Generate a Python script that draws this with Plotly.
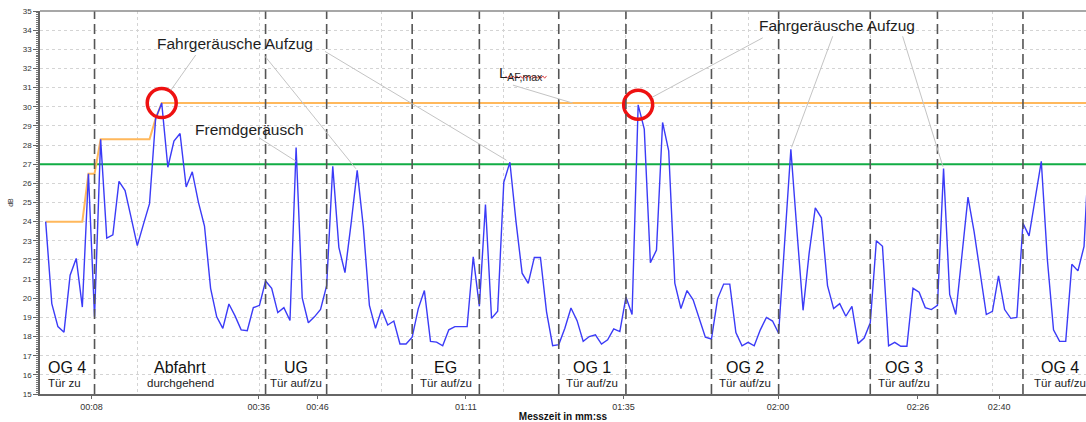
import numpy as np
import plotly.graph_objects as go

# Sound pressure level, one sample per second (dB)
level_db = [
    24.0, 19.72, 18.52, 18.23, 21.2, 22.08, 19.54, 26.5, 19.03, 28.3,
    23.14, 23.31, 26.1, 25.62, 24.2, 22.75, 23.86, 24.94, 29.38, 30.19,
    26.84, 28.21, 28.6, 25.81, 26.6, 25.02, 23.77, 20.52, 19.03, 18.43,
    19.70, 19.08, 18.35, 18.31, 19.51, 19.63, 20.90, 20.52, 19.25, 19.51,
    18.84, 27.87, 20.02, 18.72, 19.03, 19.42, 20.66, 26.89, 22.66, 21.34,
    23.9, 26.68, 23.74, 19.63, 18.43, 19.41, 18.6, 18.81, 17.61, 17.61,
    17.97, 19.46, 20.40, 17.75, 17.71, 17.52, 18.35, 18.52, 18.52, 18.52,
    22.16, 19.58, 24.90, 18.95, 19.32, 26.05, 27.1, 24.0, 21.31, 20.78,
    22.13, 22.13, 19.29, 17.52, 17.58, 18.43, 19.49, 18.83, 17.75, 18.00,
    18.09, 17.61, 17.83, 18.40, 18.26, 20.06, 19.15, 30.10, 28.83, 21.86,
    22.51, 29.18, 27.70, 20.79, 19.46, 20.40, 19.92, 18.95, 17.97, 17.87,
    19.97, 20.74, 20.74, 18.21, 17.52, 17.70, 17.52, 18.35, 19.0, 18.81,
    18.17, 23.0, 27.78, 23.5, 19.37, 22.37, 24.72, 24.20, 20.66, 19.46,
    19.72, 19.06, 19.58, 17.63, 17.92, 18.72, 23.00, 22.71, 17.52, 17.70,
    17.49, 17.49, 20.52, 20.32, 19.51, 19.41, 19.63, 26.77, 20.20, 19.15,
    22.2, 25.28, 23.48, 21.34, 19.15, 19.32, 21.17, 19.41, 18.95, 19.0,
    23.91, 23.26, 25.11, 27.15, 22.0, 18.35, 17.75, 17.75, 21.77, 21.43,
    22.71, 29.0,
]

# Limit value (dB)
limit_db = 27

# Event markers (s) and tick labels
event_times = [8, 36, 46, 60, 71, 84, 95, 109, 120, 135, 146, 160]
tick_labels = ["00:08", "00:36", "00:46", "01:11", "01:35", "02:00", "02:26", "02:40"]

# Stops of the lift
section_names = ["OG 4", "Abfahrt", "UG", "EG", "OG 1", "OG 2", "OG 3", "OG 4"]
section_notes = ["Tür zu", "durchgehend", "Tür auf/zu", "Tür auf/zu",
                 "Tür auf/zu", "Tür auf/zu", "Tür auf/zu", "Tür auf/zu"]
section_spans = [(0, 8), (8, 36), (36, 46), (60, 71), (84, 95),
                 (109, 120), (135, 146), (160, 172)]

# Highlighted peaks (sample index)
max_peaks = [19, 97]
lift_peaks_left = [19, 51, 76]
lift_peaks_right = [97, 122, 147]
foreign_peak = 41

t = np.arange(len(level_db))
level = np.array(level_db)
laf_max = np.maximum.accumulate(level)

FONT = "Liberation Sans, Arial, sans-serif"
X_RANGE = [-0.93, 170.32]
Y_RANGE = [15, 35]
W, H = 1086, 422
M = dict(l=40, r=0, t=11, b=22)
SX = (W - M["l"] - M["r"]) / (X_RANGE[1] - X_RANGE[0])   # px per second
SY = (H - M["t"] - M["b"]) / (Y_RANGE[1] - Y_RANGE[0])   # px per dB

# where the time labels sit along the axis (s)
tick_pos = [7.5, 34.9, 44.5, 68.8, 94.6, 119.9, 142.8, 156.1]

fig = go.Figure()

fig.add_trace(go.Scatter(x=X_RANGE, y=[limit_db, limit_db], mode="lines",
                         line=dict(color="#12ad45", width=2), hoverinfo="skip"))
fig.add_trace(go.Scatter(x=t, y=laf_max, mode="lines",
                         line=dict(color="#ffb85c", width=2), hoverinfo="skip"))
fig.add_trace(go.Scatter(x=t, y=level, mode="lines",
                         line=dict(color="#3b3bf7", width=1.4)))
fig.add_trace(go.Scatter(x=max_peaks, y=level[max_peaks], mode="markers",
                         marker=dict(symbol="circle-open", size=29, color="#ee1111",
                                     line=dict(color="#ee1111", width=3.5)),
                         hoverinfo="skip"))

shapes = []
for ev in event_times:
    shapes.append(dict(type="line", xref="x", yref="paper", x0=ev, x1=ev, y0=0, y1=1,
                       line=dict(color="#555555", width=1.6, dash="10px,5px")))
shapes.append(dict(type="line", xref="paper", yref="paper", x0=0, x1=1, y0=1, y1=1,
                   line=dict(color="#8a8a8a", width=1.5)))

# wavy spell-check underline below the subscript
zx = np.linspace(75.3, 82.0, 23)
zy = 31.55 + np.where(np.arange(len(zx)) % 2 == 0, 0.06, -0.06)
path = "M " + " L ".join(f"{a:.3f},{b:.3f}" for a, b in zip(zx, zy))
shapes.append(dict(type="path", xref="x", yref="y", path=path,
                   line=dict(color="#e04848", width=1)))

GRAY = "#c4c4c4"


def leader(x, y, ax, ay, standoff=0.0):
    """Thin callout line from (ax, ay) towards (x, y), stopping `standoff` px short."""
    dxp, dyp = (x - ax) * SX, (y - ay) * SY
    dist = float(np.hypot(dxp, dyp))
    k = max(dist - standoff, 0) / dist
    shapes.append(dict(type="line", xref="x", yref="y", x0=ax, y0=ay,
                       x1=ax + (x - ax) * k, y1=ay + (y - ay) * k,
                       line=dict(color=GRAY, width=1)))


# left group
leader(lift_peaks_left[0], level[lift_peaks_left[0]], 24.56, 32.70, 16)
leader(lift_peaks_left[1], level[lift_peaks_left[1]], 35.9, 32.64, 2)
leader(lift_peaks_left[2], level[lift_peaks_left[2]], 45.73, 32.89, 4)
leader(foreign_peak, 27.15, 35.09, 28.35, 0)
# right group
leader(lift_peaks_right[0], level[lift_peaks_right[0]], 117.4, 33.6, 16)
leader(lift_peaks_right[1], level[lift_peaks_right[1]], 128.85, 33.68, 2)
leader(lift_peaks_right[2], level[lift_peaks_right[2]], 140.3, 33.68, 2)
# running maximum
leader(86.3, laf_max[-1], 76.5, 31.13, 0)

TXT = "#1e1e1e"
annotations = [
    dict(x=31.0, y=33.3, xref="x", yref="y", text="Fahrgeräusche Aufzug",
         showarrow=False, font=dict(family=FONT, size=15.5, color=TXT)),
    dict(x=33.4, y=28.8, xref="x", yref="y", text="Fremdgeräusch",
         showarrow=False, font=dict(family=FONT, size=15.5, color=TXT)),
    dict(x=129.5, y=34.23, xref="x", yref="y", text="Fahrgeräusche Aufzug",
         showarrow=False, font=dict(family=FONT, size=15.5, color=TXT)),
    dict(x=73.9, y=31.75, xref="x", yref="y", xanchor="left",
         text="L<sub>AF,max</sub>", showarrow=False,
         font=dict(family=FONT, size=15, color=TXT)),
]

for name, note, (a, b) in zip(section_names, section_notes, section_spans):
    if a == 0:
        xa, anchor = 0, "left"
    else:
        xa, anchor = (a + b) / 2, "center"
    annotations.append(dict(x=xa, y=16.4, xref="x", yref="y", xanchor=anchor,
                            text=name, showarrow=False,
                            font=dict(family=FONT, size=16, color="#111111")))
    annotations.append(dict(x=xa, y=15.57, xref="x", yref="y", xanchor=anchor,
                            text=note, showarrow=False,
                            font=dict(family=FONT, size=11.5, color="#222222")))

fig.update_layout(
    width=W, height=H,
    margin=M,
    paper_bgcolor="white", plot_bgcolor="white",
    showlegend=False,
    shapes=shapes, annotations=annotations,
    font=dict(family=FONT),
)

fig.update_xaxes(
    range=X_RANGE, showline=True, linecolor="#666666", linewidth=1.5,
    tickvals=tick_pos, ticktext=tick_labels, ticks="outside", ticklen=3,
    tickcolor="#666666", tickfont=dict(family=FONT, size=9, color="#333333"),
    showgrid=False, zeroline=False,
    minor=dict(tick0=15, dtick=20, showgrid=True, gridcolor="#d4d4d4",
               griddash="dot", gridwidth=1, ticks=""),
    title=dict(text="<b>Messzeit in mm:ss</b>", standoff=3,
               font=dict(family=FONT, size=10, color="#111111")),
)

fig.update_yaxes(
    range=Y_RANGE, tick0=15, dtick=1, showline=True, linecolor="#666666",
    linewidth=1.5, ticks="outside", ticklen=5, tickcolor="#666666",
    tickfont=dict(family=FONT, size=8, color="#333333"),
    showgrid=True, gridcolor="#d4d4d4", griddash="dot", gridwidth=1,
    zeroline=False,
    minor=dict(dtick=0.1, ticks="outside", ticklen=2.5, tickcolor="#777777",
               showgrid=False),
    title=dict(text="dB", standoff=8, font=dict(family=FONT, size=7, color="#333333")),
)

fig.write_html("out.html")
